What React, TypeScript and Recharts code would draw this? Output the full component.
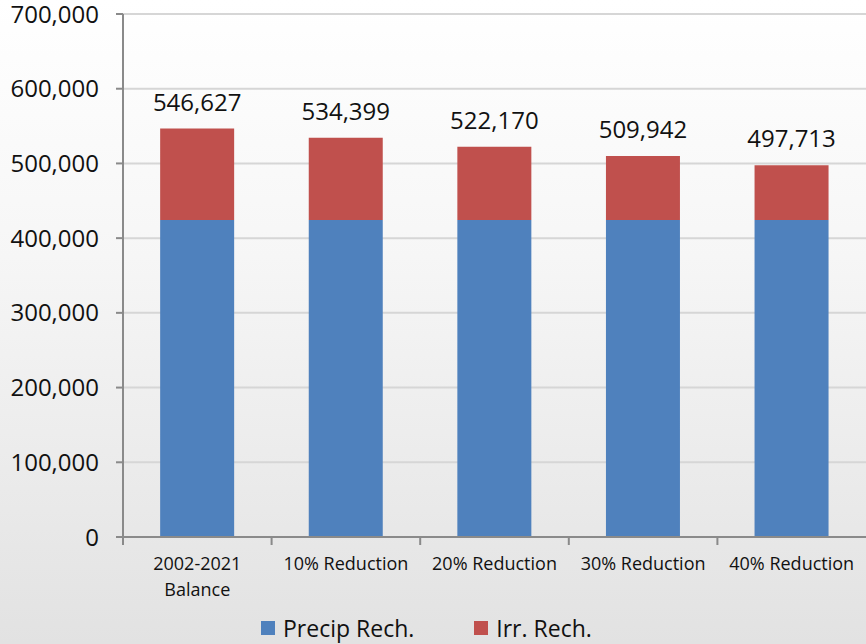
import { BarChart, Bar, XAxis, YAxis, CartesianGrid, LabelList } from "recharts"

const categories = ["2002-2021\nBalance", "10% Reduction", "20% Reduction", "30% Reduction", "40% Reduction"]
const precipRech = [424342, 424342, 424342, 424342, 424342]
const irrRech = [122285, 110057, 97828, 85600, 73371]
const totals = [546627, 534399, 522170, 509942, 497713]
const yTicks = [0, 100000, 200000, 300000, 400000, 500000, 600000, 700000]

const data = categories.map((name, i) => ({
  name,
  precip: precipRech[i],
  irr: irrRech[i],
  total: totals[i],
}))

const FONT = "'Open Sans', 'Noto Sans', sans-serif"
const AXIS = "#8a8a8a"
const BLUE = "#4f81bd"
const RED = "#c0504d"

function CategoryTick(props: any) {
  const { x, y, payload } = props
  const half = payload && payload.offset ? payload.offset : 74.3
  const lines = String(payload.value).split("\n")
  return (
    <g>
      <line x1={x - half} x2={x - half} y1={y - 8} y2={y} stroke={AXIS} strokeWidth={2} />
      <text x={x} y={y + 25} textAnchor="middle" fontSize={18} fill="#111" fontFamily={FONT}>
        {lines.map((l, i) => (
          <tspan key={i} x={x} dy={i === 0 ? 0 : 26}>
            {l}
          </tspan>
        ))}
      </text>
    </g>
  )
}

function LegendBox() {
  const items = [
    { label: "Precip Rech.", color: BLUE },
    { label: "Irr. Rech.", color: RED },
  ]
  return (
    <div style={{ position: "absolute", left: 261, top: 613, display: "flex", alignItems: "center" }}>
      {items.map((it, i) => (
        <div key={i} style={{ display: "flex", alignItems: "center", marginRight: i === 0 ? 60 : 0 }}>
          <span style={{ width: 14, height: 14, background: it.color, display: "inline-block", marginRight: 8 }} />
          <span style={{ fontFamily: FONT, fontSize: 23, color: "#111", lineHeight: "30px" }}>{it.label}</span>
        </div>
      ))}
    </div>
  )
}

export default function App() {
  return (
    <div
      style={{
        position: "absolute",
        left: 0,
        top: 0,
        width: 866,
        height: 644,
        overflow: "hidden",
        background: "linear-gradient(to bottom, #ffffff 0%, #f6f6f6 40%, #e2e2e2 100%)",
      }}
    >
      <BarChart
        width={866}
        height={644}
        data={data}
        margin={{ top: 14, right: 0, bottom: 47, left: 0 }}
        barCategoryGap="25%"
      >
        <CartesianGrid vertical={false} stroke="#d6d6d6" strokeWidth={2} />
        <XAxis
          dataKey="name"
          axisLine={{ stroke: AXIS, strokeWidth: 2 }}
          tickLine={false}
          tick={<CategoryTick />}
          interval={0}
          height={60}
        />
        <YAxis
          width={123}
          domain={[0, 700000]}
          ticks={yTicks}
          interval={0}
          axisLine={{ stroke: AXIS, strokeWidth: 2 }}
          tickLine={{ stroke: AXIS, strokeWidth: 2 }}
          tickSize={7}
          tickMargin={17}
          tick={{ fontSize: 24, fill: "#111", fontFamily: FONT }}
          tickFormatter={(v: number) => v.toLocaleString("en-US")}
        />
        <Bar dataKey="precip" stackId="a" fill={BLUE} isAnimationActive={false} />
        <Bar dataKey="irr" stackId="a" fill={RED} isAnimationActive={false}>
          <LabelList
            dataKey="total"
            position="top"
            offset={18}
            fill="#111"
            fontSize={24}
            fontFamily={FONT}
            formatter={(v: any) => Number(v).toLocaleString("en-US")}
          />
        </Bar>
      </BarChart>
      <LegendBox />
    </div>
  )
}
